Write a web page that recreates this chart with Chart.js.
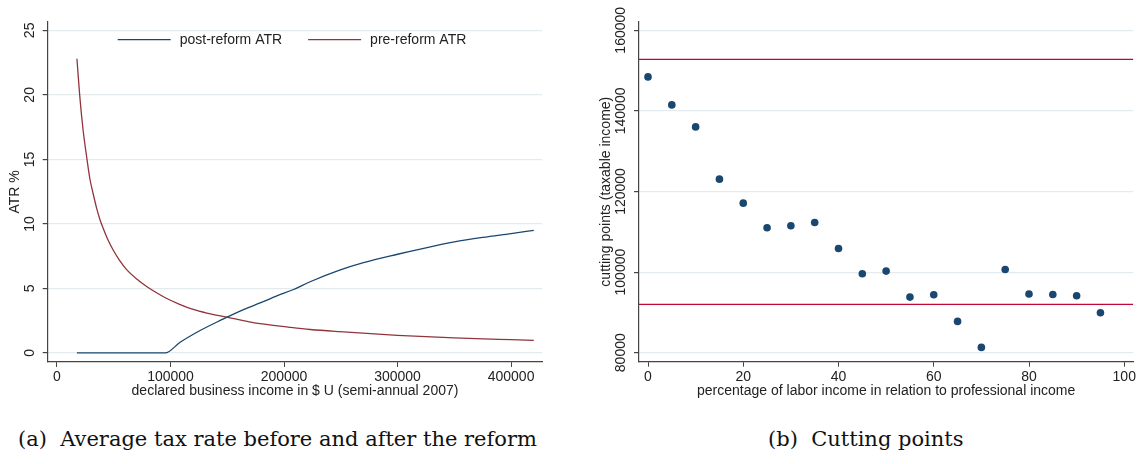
<!DOCTYPE html>
<html lang="en">
<head>
    <meta charset="UTF-8">
    <script src="https://cdn.jsdelivr.net/npm/chart.js"></script>
    <style>
        body {
            margin: 0;
            padding: 0;
            background-color: #fff;
            width: 1140px;
            height: 464px;
            position: relative;
            overflow: hidden;
        }
        .panel {
            position: absolute;
            top: 0;
            width: 570px;
            height: 400px;
        }
        .caption {
            position: absolute;
            top: 427px;
            font-family: "DejaVu Serif", serif;
            font-size: 21px;
            line-height: 24px;
            color: #111;
            white-space: pre;
        }
    </style>
</head>
<body>
    <div class="panel" style="left: 0;"><canvas id="atrChart" width="570" height="400"></canvas></div>
    <div class="panel" style="left: 570px;"><canvas id="cutChart" width="570" height="400"></canvas></div>
    <div class="caption" style="left: 18px;">(a)  Average tax rate before and after the reform</div>
    <div class="caption" style="left: 768px;">(b)  Cutting points</div>
    <script>
        // panel (a): average tax rate
        const preIncome = [17600, 20000, 23000, 26000, 29000, 32000, 35000, 38000, 41000, 45000, 50000, 55000, 61000, 70000, 79000, 87000, 95000, 108000, 120000, 132000, 149600, 179000, 205000, 223000, 249000, 300000, 350000, 400000, 420000];
        const preAtr = [22.8, 20.0, 17.3, 15.3, 13.5, 12.3, 11.2, 10.3, 9.6, 8.75, 7.9, 7.2, 6.5, 5.75, 5.15, 4.7, 4.3, 3.77, 3.37, 3.09, 2.78, 2.27, 1.99, 1.82, 1.65, 1.37, 1.17, 1.03, 0.98];
        const postIncome = [17600, 95300, 108500, 126100, 143800, 164300, 179000, 193700, 208400, 223000, 249000, 270000, 300000, 325000, 350000, 375000, 400000, 420000];
        const postAtr = [0, 0, 0.83, 1.74, 2.52, 3.36, 3.88, 4.42, 4.92, 5.52, 6.42, 7.0, 7.65, 8.15, 8.6, 8.95, 9.25, 9.5];
        const atrXTicks = [0, 100000, 200000, 300000, 400000];
        const atrYTicks = [0, 5, 10, 15, 20, 25];

        // panel (b): cutting points
        const laborShare = [0, 5, 10, 15, 20, 25, 30, 35, 40, 45, 50, 55, 60, 65, 70, 75, 80, 85, 90, 95];
        const cutPoints = [148430, 141490, 136030, 123060, 117110, 110990, 111490, 112310, 105870, 99590, 100250, 93800, 94380, 87770, 81320, 100660, 94550, 94460, 94130, 89920];
        const upperCut = 152800;
        const lowerCut = 92000;
        const cutXTicks = [0, 20, 40, 60, 80, 100];
        const cutYTicks = [80000, 100000, 120000, 140000, 160000];

        const navy = '#1a476f';
        const maroon = '#90353b';
        const crimson = '#c10534';
        const axisColor = '#444';
        const gridColor = '#e3ebee';
        const textColor = '#222';
        const fontFamily = '"Liberation Sans", Arial, sans-serif';

        const toPoints = (xs, ys) => xs.map((x, i) => ({ x: x, y: ys[i] }));

        const xAxis = (min, max, ticks, title, height) => ({
            type: 'linear',
            position: 'bottom',
            min: min,
            max: max,
            afterBuildTicks: s => { s.ticks = ticks.map(v => ({ value: v })); },
            afterFit: s => { s.height = height; },
            grid: { drawOnChartArea: false, drawTicks: true, tickLength: 5, tickColor: axisColor },
            border: { color: axisColor, width: 1.2 },
            ticks: { autoSkip: false, maxRotation: 0, padding: 2, color: textColor, font: { family: fontFamily, size: 14 }, callback: v => String(v) },
            title: { display: true, text: title, color: textColor, font: { family: fontFamily, size: 14 }, padding: { top: 0, bottom: 0.5 } }
        });

        const yAxis = (min, max, ticks, title, width, tickPad, titlePad) => ({
            type: 'linear',
            min: min,
            max: max,
            afterBuildTicks: s => { s.ticks = ticks.map(v => ({ value: v })); },
            afterFit: s => { s.width = width; },
            grid: { color: gridColor, lineWidth: 1.2, drawTicks: true, tickLength: 5, tickColor: axisColor },
            border: { color: axisColor, width: 1.2 },
            ticks: { minRotation: 90, maxRotation: 90, crossAlign: 'center', padding: tickPad, color: textColor, font: { family: fontFamily, size: 14 }, callback: v => String(v) },
            title: { display: true, text: title, color: textColor, font: { family: fontFamily, size: 14 }, padding: { top: titlePad, bottom: 0 } }
        });

        // legend drawn inside the plot, at the top, like the original
        const insideLegend = {
            id: 'insideLegend',
            afterDraw(chart) {
                const { ctx, chartArea } = chart;
                const lineLen = 53, gap = 9, itemGap = 26;
                ctx.save();
                ctx.font = '14px ' + fontFamily;
                const items = chart.data.datasets.map(d => ({ label: d.label, color: d.borderColor, w: ctx.measureText(d.label).width }));
                const total = items.reduce((a, it) => a + lineLen + gap + it.w, 0) + itemGap * (items.length - 1);
                let x = (chartArea.left + chartArea.right) / 2 - total / 2 - 3;
                const y = chartArea.top + 18;
                items.forEach(it => {
                    ctx.strokeStyle = it.color;
                    ctx.lineWidth = 1.3;
                    ctx.beginPath();
                    ctx.moveTo(x, y);
                    ctx.lineTo(x + lineLen, y);
                    ctx.stroke();
                    ctx.fillStyle = textColor;
                    ctx.textBaseline = 'middle';
                    ctx.fillText(it.label, x + lineLen + gap, y + 0.5);
                    x += lineLen + gap + it.w + itemGap;
                });
                ctx.restore();
            }
        };

        new Chart(document.getElementById('atrChart'), {
            type: 'line',
            data: {
                datasets: [
                    {
                        label: 'post-reform ATR',
                        data: toPoints(postIncome, postAtr),
                        borderColor: navy,
                        borderWidth: 1.3,
                        pointRadius: 0,
                        cubicInterpolationMode: 'monotone'
                    },
                    {
                        label: 'pre-reform ATR',
                        data: toPoints(preIncome, preAtr),
                        borderColor: maroon,
                        borderWidth: 1.3,
                        pointRadius: 0,
                        cubicInterpolationMode: 'monotone'
                    }
                ]
            },
            options: {
                responsive: false,
                animation: false,
                layout: { padding: { left: 0, top: 21.7, right: 27.7, bottom: 0 } },
                scales: {
                    x: xAxis(-8150, 427500, atrXTicks, 'declared business income in $ U (semi-annual 2007)', 38),
                    y: yAxis(-0.7, 25.67, atrYTicks, 'ATR %', 47.7, 4.7, 6.6)
                },
                plugins: { legend: { display: false }, tooltip: { enabled: false } }
            },
            plugins: [insideLegend]
        });

        new Chart(document.getElementById('cutChart'), {
            type: 'scatter',
            data: {
                datasets: [
                    {
                        label: 'cutting points',
                        data: toPoints(laborShare, cutPoints),
                        backgroundColor: navy,
                        borderColor: navy,
                        pointRadius: 3.8,
                        borderWidth: 0
                    },
                    {
                        label: 'upper',
                        data: toPoints([-1.89, 101.9], [upperCut, upperCut]),
                        showLine: true,
                        borderColor: crimson,
                        borderWidth: 1.3,
                        pointRadius: 0
                    },
                    {
                        label: 'lower',
                        data: toPoints([-1.89, 101.9], [lowerCut, lowerCut]),
                        showLine: true,
                        borderColor: crimson,
                        borderWidth: 1.3,
                        pointRadius: 0
                    }
                ]
            },
            options: {
                responsive: false,
                animation: false,
                layout: { padding: { left: 0, top: 21.7, right: 6.7, bottom: 0 } },
                scales: {
                    x: xAxis(-1.89, 101.9, cutXTicks, 'percentage of labor income in relation to professional income', 38.3),
                    y: yAxis(77770, 162130, cutYTicks, 'cutting points (taxable income)', 69, -10.85, 28.1)
                },
                plugins: { legend: { display: false }, tooltip: { enabled: false } }
            }
        });
    </script>
</body>
</html>
